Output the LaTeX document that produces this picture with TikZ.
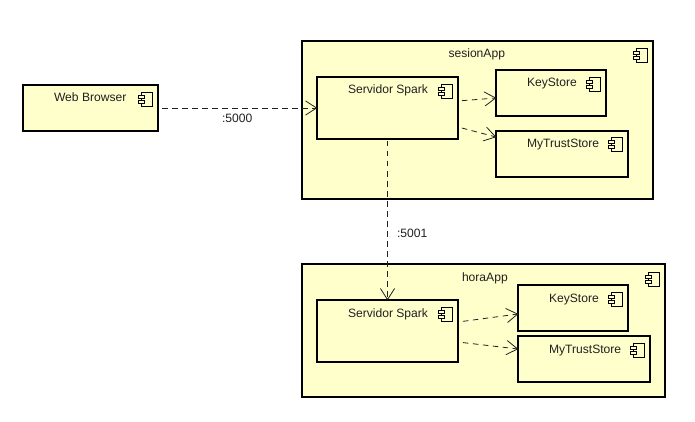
\documentclass[tikz,border=0pt]{standalone}
\usepackage{fontspec}
\setmainfont{Liberation Sans}
\usetikzlibrary{arrows.meta}
\definecolor{compfill}{HTML}{FFFFCC}
\definecolor{inkline}{HTML}{202020}
\tikzset{
  x=1pt,y=-1pt,
  comp/.style={draw=black,fill=compfill,line width=2pt,anchor=north west,inner sep=0pt,outer sep=0pt},
  lbl/.style={anchor=base west,inner sep=0pt,outer sep=0pt,font=\fontsize{12.1}{13}\selectfont,text=inkline},
  dep/.style={draw=inkline,line width=0.8pt,dash pattern=on 5.5pt off 4.5pt,-{Straight Barb[length=11pt,width=14pt,line width=0.8pt,round=false]}},
  pics/compicon/.style={code={
    \draw[black,line width=0.9pt,fill=compfill] (3,0) rectangle (14.5,14);
    \draw[black,line width=0.9pt,fill=compfill] (0,3) rectangle (6,6);
    \draw[black,line width=0.9pt,fill=compfill] (0,8) rectangle (6,11);
  }}
}
\begin{document}
\begin{tikzpicture}
\useasboundingbox (0,0) rectangle (695,422);
\fill[white] (0,0) rectangle (695,422);
% components
\node[comp,minimum width=135pt,minimum height=46pt] (web) at (23,85) {};
\node[comp,minimum width=351pt,minimum height=158pt] (sesion) at (302,41) {};
\node[comp,minimum width=141pt,minimum height=62pt] (srvA) at (317,77) {};
\node[comp,minimum width=110pt,minimum height=46pt] (keyA) at (496,70) {};
\node[comp,minimum width=132pt,minimum height=46pt] (trustA) at (496,131) {};
\node[comp,minimum width=363pt,minimum height=133.5pt] (hora) at (302,263.5) {};
\node[comp,minimum width=141pt,minimum height=62pt] (srvB) at (317,300) {};
\node[comp,minimum width=110pt,minimum height=46pt] (keyB) at (518,285) {};
\node[comp,minimum width=132pt,minimum height=46pt] (trustB) at (518,336) {};
% icons
\pic at (138,92) {compicon};
\pic at (633,48) {compicon};
\pic at (438,84) {compicon};
\pic at (586,77) {compicon};
\pic at (608,137) {compicon};
\pic at (645,272) {compicon};
\pic at (438,307) {compicon};
\pic at (608,292) {compicon};
\pic at (630,343) {compicon};
% labels
\node[lbl] (tWeb) at (54,102) {Web Browser};
\node[lbl] (tSes) at (448.5,58) {sesionApp};
\node[lbl] (tSrvA) at (348,94) {Servidor Spark};
\node[lbl] (tKeyA) at (527,87) {KeyStore};
\node[lbl] (tTruA) at (527,148) {MyTrustStore};
\node[lbl] (tHora) at (462,281) {horaApp};
\node[lbl] (tSrvB) at (348,317) {Servidor Spark};
\node[lbl] (tKeyB) at (549,302) {KeyStore};
\node[lbl] (tTruB) at (549,353) {MyTrustStore};
\node[lbl] (p5000) at (222,123) {:5000};
\node[lbl] (p5001) at (397,237) {:5001};
% connectors
\path[dep,shorten <=4pt] (web.east) -- (web.east -| srvA.west);
\path[dep,shorten <=2pt] (srvA.south) -- (srvB.north);
\path[dep,shorten <=4pt] ([yshift=7pt]srvA.east) -- ([yshift=-5pt]keyA.west);
\path[dep,shorten <=4pt] ([yshift=-19pt]srvA.east) -- ([yshift=17pt]trustA.west);
\path[dep,shorten <=5pt] ([yshift=9pt]srvB.east) -- ([yshift=-6pt]keyB.west);
\path[dep,shorten <=5pt] ([yshift=-11pt]srvB.east) -- ([yshift=10pt]trustB.west);
\end{tikzpicture}
\end{document}
